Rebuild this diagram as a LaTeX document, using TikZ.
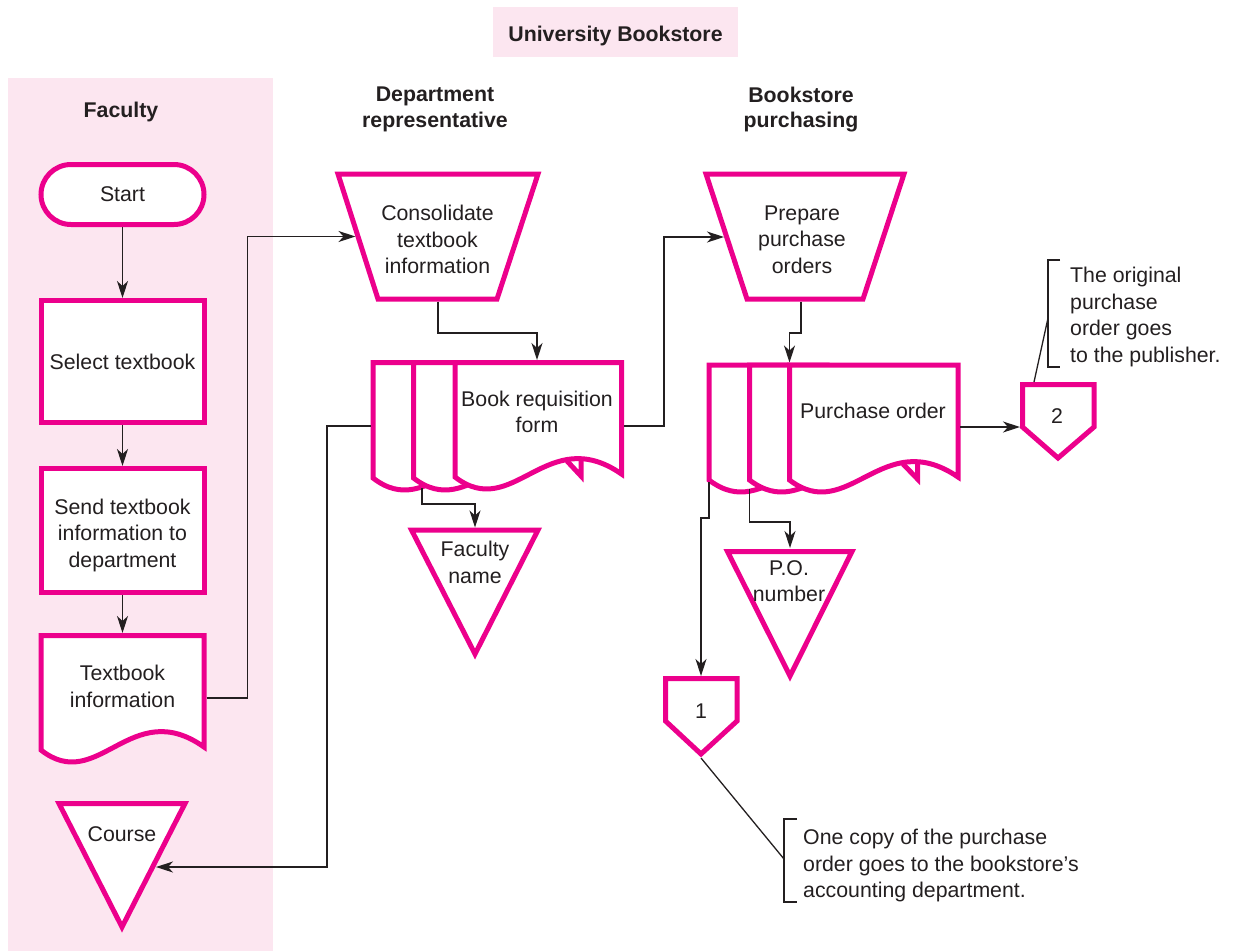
\documentclass[tikz,border=0pt]{standalone}
\usepackage{fontspec}
\setmainfont{Liberation Sans}
\usetikzlibrary{arrows.meta}

\definecolor{mag}{HTML}{EC008C}
\definecolor{lanepink}{HTML}{FCE6F0}
\definecolor{ink}{HTML}{231F20}

% document sheet: left x, right x, top y, bottom-left y (wavy bottom edge)
\newcommand\sheetoutline[4]{(#2,#3) -- (#1,#3) -- (#1,#4) .. controls ({#1+0.35*(#2-#1)},{#4+45}) and ({#1+0.55*(#2-#1)},{#4-55}) .. (#2,{#4-3})}

\tikzset{
  shapeline/.style={draw=mag, line width=5pt, line join=miter, fill=white},
  conn/.style={draw=ink, line width=1.3pt, -{Stealth[length=17pt,width=11pt,inset=5pt]}},
  plainline/.style={draw=ink, line width=1.3pt},
  txt/.style={font=\fontsize{21.3}{26.5}\selectfont, text=ink, align=center, inner sep=0pt},
  note/.style={font=\fontsize{21.3}{26.5}\selectfont, text=ink, align=left, inner sep=0pt, anchor=west},
  hdr/.style={font=\bfseries\fontsize{21.3}{25.5}\selectfont, text=ink, align=center, inner sep=0pt},
  area/.style={draw=none, inner sep=0pt, outer sep=0pt},
}

\begin{document}
\begin{tikzpicture}[x=1pt, y=-1pt]
\useasboundingbox (0,0) rectangle (1233,951);

% swimlane and title
\fill[lanepink] (8,78) rectangle (273,951);
\node[area, fill=lanepink, minimum width=245pt, minimum height=50pt] (titlebox) at (615.5,32) {};
\node[hdr] (title) at (615.5,36) {University Bookstore};

\node[hdr] (facH) at (121,112) {Faculty};
\node[hdr] (depH) at (435,109.5) {Department\\representative};
\node[hdr] (bsH) at (801,109.5) {Bookstore\\purchasing};

% ---------------- Faculty column ----------------
\node[shapeline, rounded corners=30pt, minimum width=163pt, minimum height=60pt, txt] (start) at (122.5,194.5) {Start};
\node[shapeline, minimum width=163pt, minimum height=122pt, txt] (select) at (122.5,361.5) {Select textbook};
\node[shapeline, minimum width=163pt, minimum height=124pt] (send) at (122.5,530.5) {};
\node[txt] (sendT) at (122.5,535.3) {Send textbook\\information to\\department};

\filldraw[shapeline] \sheetoutline{41}{204}{635.5}{750} -- cycle;
\node[area, minimum width=168pt, minimum height=130pt] (texinfo) at (122.5,698) {};
\node[txt] (texinfoT) at (122.5,686.5) {Textbook\\information};

\filldraw[shapeline] (59,803.5) -- (185,803.5) -- (122,927) -- cycle;
\node[area, minimum width=133pt, minimum height=128pt] (course) at (122,867) {};
\coordinate (course-in) at (156,867);
\node[txt] (courseT) at (122,834) {Course};

% ---------------- Department representative ----------------
\filldraw[shapeline] (338,174) -- (538,174) -- (497,299) -- (378,299) -- cycle;
\node[area, minimum width=206pt, minimum height=130pt] (cons) at (438,236.5) {};
\coordinate (cons-in) at (355.5,236.5);
\node[txt] (consT) at (437.5,239.7) {Consolidate\\textbook\\information};

% stacked copies: each back sheet is cut just past the next sheet's edge
\begin{scope}
  \clip (360,350) rectangle (453.5,500);
  \filldraw[shapeline] \sheetoutline{373}{539.5}{362.5}{478};
\end{scope}
\begin{scope}
  \clip (400,350) rectangle (495,500);
  \filldraw[shapeline] \sheetoutline{413.5}{580}{362.5}{478};
\end{scope}
\filldraw[shapeline] \sheetoutline{455}{621.5}{362.5}{477} -- cycle;
\draw[shapeline, fill=none] (567,461) -- (581,476) -- (581,460);
\node[area, minimum width=253.5pt, minimum height=132pt] (req) at (497.25,426) {};
\coordinate (req-out) at (422,488);
\node[txt] (reqT) at (537,412) {Book requisition\\form};

\filldraw[shapeline] (411.5,530) -- (538,530) -- (475,654) -- cycle;
\node[area, minimum width=134pt, minimum height=131pt] (fname) at (475,593) {};
\node[txt] (fnameT) at (475,562.5) {Faculty\\name};

% ---------------- Bookstore purchasing ----------------
\filldraw[shapeline] (706,174) -- (904,174) -- (863,299) -- (747,299) -- cycle;
\node[area, minimum width=204pt, minimum height=130pt] (prep) at (805,236.5) {};
\coordinate (prep-in) at (724,237);
\node[txt] (prepT) at (802,239.7) {Prepare\\purchase\\orders};

\begin{scope}
  \clip (695,350) rectangle (789.5,505);
  \filldraw[shapeline] \sheetoutline{709}{877.5}{365}{480};
\end{scope}
\begin{scope}
  \clip (735,350) rectangle (829.5,505);
  \filldraw[shapeline] \sheetoutline{749.5}{918}{365}{480};
\end{scope}
\filldraw[shapeline] \sheetoutline{789.5}{958}{365}{480} -- cycle;
\draw[shapeline, fill=none] (903,464) -- (917.5,479) -- (917.5,463);
\node[area, minimum width=253pt, minimum height=129pt] (po) at (833.5,427) {};
\coordinate (po-outA) at (709,482);
\coordinate (po-outB) at (749.5,489);
\node[txt] (poT) at (873,411) {Purchase order};

\filldraw[shapeline] (727.5,551.5) -- (852,551.5) -- (790,676) -- cycle;
\node[area, minimum width=132pt, minimum height=132pt] (ponum) at (790,614) {};
\node[txt] (ponumT) at (789,581) {P.O.\\number};

% off-page connectors
\filldraw[shapeline] (665.5,678.5) -- (737,678.5) -- (737,721) -- (701,754) -- (665.5,721) -- cycle;
\node[area, minimum width=76pt, minimum height=82pt] (opc1) at (701,717) {};
\node[txt] (opc1T) at (701,711) {1};

\filldraw[shapeline] (1022.5,384.5) -- (1094,384.5) -- (1094,427) -- (1058,458) -- (1022.5,427) -- cycle;
\node[area, minimum width=76pt, minimum height=90pt] (opc2) at (1058,427) {};
\node[txt] (opc2T) at (1057,416) {2};

% annotations
\coordinate (note1-hook) at (784,859);
\draw[plainline] (797,819) -- (784,819) -- (784,902) -- (797,902);
\draw[plainline] (opc1.south) -- (note1-hook);
\node[note] (note1) at (803,865.5) {One copy of the purchase\\order goes to the bookstore's\\accounting department.};

\coordinate (note2-hook) at (1048,318);
\draw[plainline] (1060,260) -- (1048,260) -- (1048,367) -- (1060,367);
\draw[plainline] ([xshift=-24pt]opc2.north) -- (note2-hook);
\node[note] (note2) at (1070,317) {The original\\purchase\\order goes\\to the publisher.};

% ---------------- flow connectors ----------------
\draw[conn] (start) -- (select);
\draw[conn] (select) -- (send);
\draw[conn] (send) -- (texinfo);
\draw[conn] (texinfo.east) -- ++(41,0) |- (cons-in);
\draw[conn] (cons.south) -- ++(0,31.5) -| ([xshift=39.75pt]req.north);
\draw[conn] (req.east) -- ++(40,0) |- (prep-in);
\draw[conn] (req.west) -- ++(-43.5,0) |- (course-in);
\draw[conn] (req-out) -- ++(0,16) -| (fname.north);
\draw[conn] ([xshift=-4pt]prep.south) -- ++(0,31.5) -| ([xshift=-44pt]po.north);
\draw[conn] (po.east) -- (opc2.west);
\draw[conn] (po-outA) -- ++(0,36) -| (opc1.north);
\draw[conn] (po-outB) -- ++(0,33) -| (ponum.north);
\end{tikzpicture}
\end{document}
